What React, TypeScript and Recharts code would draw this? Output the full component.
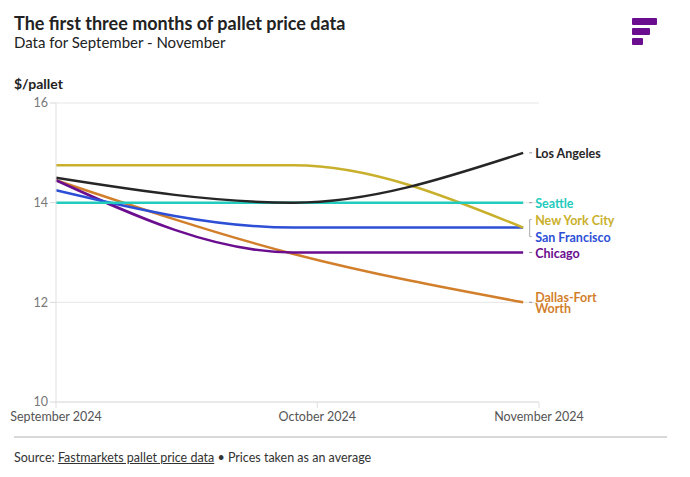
import { LineChart, Line, XAxis, YAxis, CartesianGrid } from 'recharts';

// data points
const months = ['2024-09-01', '2024-10-01', '2024-10-30'];
const tickDates = ['2024-09-01', '2024-10-04', '2024-11-01'];
const tickLabels = ['September 2024', 'October 2024', 'November 2024'];
const yTicks = [10, 12, 14, 16];

const losAngeles = [14.5, 14.0, 15.0];
const seattle = [14.0, 14.0, 14.0];
const newYorkCity = [14.75, 14.75, 13.5];
const sanFrancisco = [14.25, 13.5, 13.5];
const chicago = [14.45, 13.0, 13.0];
const dallasFortWorth = [14.45, 12.97, 12.0];

const ts = (d: string) => new Date(d + 'T00:00:00Z').getTime();

const data = months.map((m, i) => ({
  date: ts(m),
  la: losAngeles[i],
  sea: seattle[i],
  nyc: newYorkCity[i],
  sf: sanFrancisco[i],
  chi: chicago[i],
  dfw: dallasFortWorth[i],
}));

const xTicks = tickDates.map(ts);

const FONT = 'Lato, "Open Sans", sans-serif';

// series, in drawing order; dy = label offset from the end point
const series = [
  { key: 'dfw', name: ['Dallas-Fort', 'Worth'], color: '#d27f2c', dy: 0 },
  { key: 'chi', name: ['Chicago'], color: '#6a0d8f', dy: 0 },
  { key: 'sf', name: ['San Francisco'], color: '#2d4fd6', dy: 9, noDash: true },
  { key: 'nyc', name: ['New York City'], color: '#c9b02c', dy: -8, bracket: true },
  { key: 'sea', name: ['Seattle'], color: '#22cbbd', dy: 0 },
  { key: 'la', name: ['Los Angeles'], color: '#262626', dy: 0 },
];

const EndLabel = (props: any, s: any) => {
  const { cx, cy, index } = props;
  if (index !== data.length - 1 || cx == null) return <g key={`d-${s.key}-${index}`} />;
  const y = cy + s.dy;
  const lh = 11.5;
  const y0 = y - ((s.name.length - 1) * lh) / 2;
  return (
    <g key={`d-${s.key}-${index}`}>
      {s.bracket ? (
        <path d={`M${cx + 8.5},${cy - 8} h-2 v17 h2`} fill="none" stroke="#aaa" strokeWidth={1} />
      ) : s.noDash ? null : (
        <line x1={cx + 6} x2={cx + 9} y1={y} y2={y} stroke="#999" strokeWidth={1} />
      )}
      <text
        x={cx + 12}
        y={y0}
        fill={s.color}
        fontFamily={FONT}
        fontSize={12.5}
        fontWeight={700}
        dominantBaseline="central"
      >
        {s.name.map((n: string, i: number) => (
          <tspan key={n} x={cx + 12} dy={i === 0 ? 0 : lh}>
            {n}
          </tspan>
        ))}
      </text>
    </g>
  );
};

export default function App() {
  return (
    <div
      style={{
        position: 'relative',
        width: 690,
        height: 477,
        margin: -8,
        background: '#fff',
        fontFamily: FONT,
        overflow: 'hidden',
      }}
    >
      <div style={{ position: 'absolute', left: 14, top: 0, width: 653, height: 2, background: '#d6d6d6' }} />
      <div style={{ position: 'absolute', left: 14, top: 12, fontSize: 18, fontWeight: 700, color: '#222' }}>
        The first three months of pallet price data
      </div>
      <div style={{ position: 'absolute', left: 14, top: 33, fontSize: 15, color: '#222' }}>
        Data for September - November
      </div>
      <div style={{ position: 'absolute', left: 632, top: 18, width: 25, height: 7, background: '#6a0d8f', borderRadius: 1 }} />
      <div style={{ position: 'absolute', left: 632, top: 28, width: 18, height: 7, background: '#6a0d8f', borderRadius: 1 }} />
      <div style={{ position: 'absolute', left: 632, top: 38, width: 11, height: 7, background: '#6a0d8f', borderRadius: 1 }} />
      <div style={{ position: 'absolute', left: 14, top: 75, fontSize: 14, fontWeight: 700, color: '#222' }}>$/pallet</div>

      <div style={{ position: 'absolute', left: 0, top: 0 }}>
        <LineChart width={690} height={477} data={data} margin={{ top: 103, right: 151, bottom: 45, left: 14 }}>
          <CartesianGrid vertical={false} stroke="#e6e6e6" />
          <XAxis
            dataKey="date"
            type="number"
            scale="time"
            domain={[xTicks[0], xTicks[2]]}
            ticks={xTicks}
            tickFormatter={(v: number) => tickLabels[xTicks.indexOf(v)]}
            height={30}
            stroke="#e0e0e0"
            tickLine={{ stroke: '#e0e0e0' }}
            tick={{ fill: '#555', fontSize: 12.5, fontFamily: FONT, dy: 2 }}
            interval={0}
          />
          <YAxis
            type="number"
            domain={[10, 16]}
            ticks={yTicks}
            width={42}
            stroke="#e0e0e0"
            tickLine={{ stroke: '#d8d8d8' }}
            tick={{ fill: '#777', fontSize: 12.5, fontFamily: FONT }}
          />
          {series.map((s) => (
            <Line
              key={s.key}
              type="monotone"
              dataKey={s.key}
              stroke={s.color}
              strokeWidth={2.5}
              dot={(p: any) => EndLabel(p, s)}
              activeDot={false}
              isAnimationActive={false}
            />
          ))}
        </LineChart>
      </div>

      <div style={{ position: 'absolute', left: 14, top: 436, width: 653, height: 2, background: '#d8d8d8' }} />
      <div style={{ position: 'absolute', left: 14, top: 450, fontSize: 12.5, color: '#333' }}>
        Source: <span style={{ textDecoration: 'underline' }}>Fastmarkets pallet price data</span> • Prices taken as an
        average
      </div>
      <div style={{ position: 'absolute', left: 65, top: 473, width: 625, height: 4, background: '#f3f3f3' }} />
      <div
        style={{
          position: 'absolute',
          left: 99,
          top: 470,
          width: 84,
          height: 10,
          background: '#f6f6f6',
          border: '1px solid #e4e4e4',
          borderRadius: 4,
        }}
      />
    </div>
  );
}
